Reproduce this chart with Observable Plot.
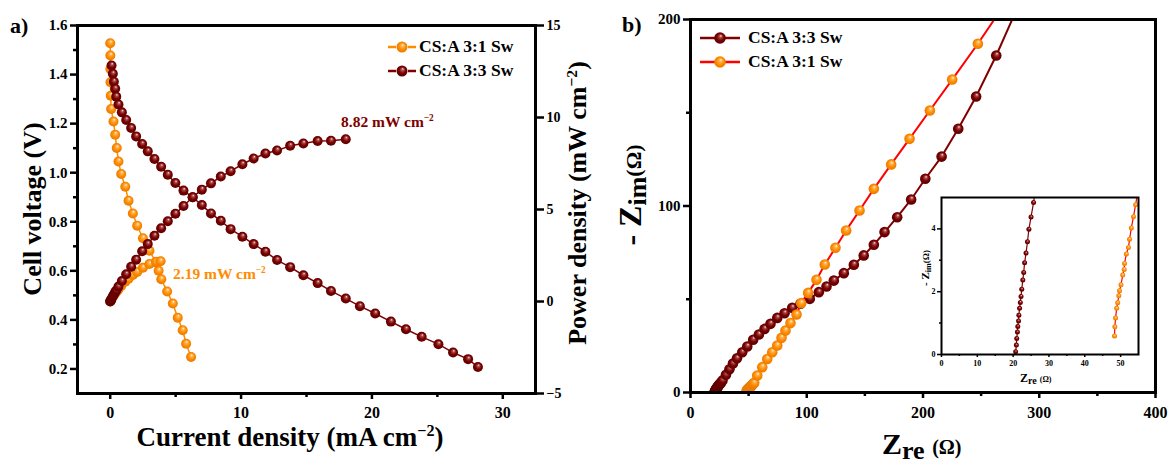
<!DOCTYPE html>
<html><head><meta charset="utf-8">
<script src="https://cdn.jsdelivr.net/npm/d3@7"></script>
<script src="https://cdn.jsdelivr.net/npm/@observablehq/plot@0.6"></script>
<style>
body{margin:0;background:#fff;}
#wrap{position:relative;width:1171px;height:465px;font-family:'Liberation Serif','Times New Roman',serif;font-weight:bold;color:#000;overflow:hidden;}
.t{position:absolute;white-space:nowrap;line-height:1;}
.rot{transform:translate(-50%,-50%) rotate(-90deg);}
sup{font-size:0.6em;vertical-align:0;position:relative;top:-0.6em;}
</style></head>
<body>
<div id="wrap"></div>
<script>
// ---------- Panel a: J-V and J-P data ----------
const J31 = [0, 0.01, 0.01, 0.02, 0.04, 0.07, 0.25, 0.38, 0.5, 0.63, 0.84, 1.15, 1.4, 1.73, 2.06, 2.5, 3.0, 3.5, 3.7, 3.9, 4.35, 4.78, 5.16, 5.54, 5.8, 6.18];
const V31 = [1.528, 1.478, 1.423, 1.369, 1.314, 1.26, 1.209, 1.155, 1.101, 1.046, 0.995, 0.943, 0.886, 0.834, 0.784, 0.733, 0.682, 0.634, 0.60, 0.566, 0.516, 0.467, 0.409, 0.358, 0.303, 0.249];
const J31p = [0, 0.02, 0.05, 0.1, 0.25, 0.38, 0.5, 0.63, 0.84, 1.15, 1.4, 1.73, 2.06, 2.5, 3.0, 3.5, 3.85];
const P31 = [0, 0.03, 0.07, 0.13, 0.30, 0.44, 0.55, 0.66, 0.84, 1.08, 1.24, 1.44, 1.61, 1.83, 2.04, 2.16, 2.19];
const J33 = [0.1, 0.2, 0.28, 0.38, 0.46, 0.63, 0.89, 1.22, 1.6, 1.98, 2.44, 2.87, 3.38, 3.89, 4.4, 4.98, 5.6, 6.3, 7.0, 7.7, 8.45, 9.2, 10.1, 10.96, 11.86, 12.75, 13.75, 14.76, 15.85, 16.87, 18.0, 19.08, 20.25, 21.45, 22.6, 23.8, 25.08, 26.2, 27.35, 28.1];
const V33 = [1.437, 1.403, 1.371, 1.342, 1.31, 1.278, 1.246, 1.215, 1.182, 1.148, 1.117, 1.087, 1.056, 1.024, 0.992, 0.958, 0.927, 0.9, 0.868, 0.834, 0.804, 0.77, 0.739, 0.709, 0.678, 0.644, 0.615, 0.582, 0.55, 0.518, 0.487, 0.456, 0.426, 0.393, 0.362, 0.331, 0.301, 0.267, 0.24, 0.208];
const J33p = [0, 0.02, 0.05, 0.1, 0.2, 0.28, 0.38, 0.46, 0.63, 0.89, 1.22, 1.6, 1.98, 2.44, 2.87, 3.38, 3.89, 4.4, 4.98, 5.6, 6.3, 7.0, 7.7, 8.45, 9.2, 10.1, 10.96, 11.86, 12.75, 13.75, 14.76, 15.85, 16.87, 18.0];
const P33 = [0, 0.03, 0.07, 0.14, 0.28, 0.38, 0.51, 0.60, 0.81, 1.11, 1.48, 1.89, 2.27, 2.73, 3.12, 3.57, 3.98, 4.36, 4.77, 5.19, 5.67, 6.08, 6.42, 6.79, 7.08, 7.46, 7.77, 8.04, 8.21, 8.46, 8.59, 8.72, 8.74, 8.82];
const xTicksA = [0, 10, 20, 30], xMinorA = [5, 15, 25];
const yTicksA = [0.2, 0.4, 0.6, 0.8, 1.0, 1.2, 1.4, 1.6], yMinorA = [0.3, 0.5, 0.7, 0.9, 1.1, 1.3, 1.5];
const pTicksA = [-5, 0, 5, 10, 15];
// ---------- Panel b: Nyquist data ----------
const Zre33 = [20.7, 20.9, 21.0, 21.2, 21.3, 21.5, 21.6, 21.8, 22.0, 22.2, 22.4, 22.7, 22.95, 23.2, 23.6, 24.0, 24.4, 25.0, 25.7, 26.3, 27.5, 30.5, 33.5, 36.5, 40.0, 44.5, 48.8, 53.9, 58.8, 63.7, 68.8, 74.6, 80.9, 87.5, 94.6, 102.6, 110.4, 117.0, 123.3, 131.9, 140.5, 149.0, 157.7, 166.9, 177.8, 189.8, 202.0, 216.0, 230.3, 245.7, 263.0, 281.0];
const Zim33 = [0.09, 0.3, 0.51, 0.72, 0.89, 1.07, 1.25, 1.47, 1.66, 1.85, 2.08, 2.37, 2.61, 2.92, 3.23, 3.59, 3.99, 4.38, 4.84, 5.3, 6.5, 9.5, 12.5, 15.5, 18.3, 21.6, 24.7, 28.3, 31.1, 34.1, 36.8, 40.0, 42.5, 45.4, 47.6, 50.2, 53.8, 56.8, 60.0, 64.0, 68.5, 73.5, 79.2, 86.0, 94.0, 103.5, 114.6, 126.5, 141.4, 158.7, 180.7, 206.0];
const Zre31 = [48.3, 48.4, 48.6, 48.9, 49.2, 49.5, 49.7, 50.1, 50.6, 51.0, 51.1, 51.6, 52.2, 52.5, 53.0, 53.6, 54.2, 54.8, 57.4, 61.7, 66.0, 70.3, 74.6, 78.3, 81.7, 86.0, 91.2, 95.2, 101.2, 108.4, 115.5, 124.7, 133.9, 145.4, 157.7, 172.6, 188.4, 205.9, 225.1, 247.2, 270.0];
const Zim31 = [0.59, 0.88, 1.16, 1.47, 1.65, 1.87, 2.03, 2.22, 2.53, 2.71, 2.9, 3.2, 3.41, 3.67, 4.03, 4.39, 4.77, 5.2, 9.1, 13.6, 18.0, 21.6, 25.2, 29.3, 33.2, 37.2, 41.8, 47.9, 53.4, 60.4, 68.6, 77.6, 86.9, 97.6, 109.2, 122.3, 136.0, 151.2, 167.8, 187.0, 208.0];
const xTicksB = [0, 100, 200, 300, 400], xMinorB = [50, 150, 250, 350];
const yTicksB = [0, 100, 200], yMinorB = [50, 150];
const xTicksIn = [0, 10, 20, 30, 40, 50], xMinorIn = [5, 15, 25, 35, 45];
const yTicksIn = [0, 2, 4], yMinorIn = [1, 3];

const names = {a31: "CS:A 3:1 Sw", a33: "CS:A 3:3 Sw"};
const C_OR = "#ff8c00", C_DR = "#800000", C_RED = "#ff0000";

const rows = (xs, ys) => xs.map((x, i) => ({x, y: ys[i]}));
const wrap = document.getElementById("wrap");
const W = 1171, H = 465;
const blank = () => "";

// gradient defs (glossy spheres)
const defs = document.createElementNS("http://www.w3.org/2000/svg", "svg");
defs.setAttribute("width", 0); defs.setAttribute("height", 0);
defs.style.position = "absolute";
defs.innerHTML = `<defs>
<radialGradient id="gO" cx="0.5" cy="0.5" r="0.5" fx="0.58" fy="0.3">
<stop offset="0" stop-color="#fff4e0"/><stop offset="0.28" stop-color="#ffb14a"/><stop offset="0.65" stop-color="#ff8a00"/><stop offset="1" stop-color="#e87a00"/></radialGradient>
<radialGradient id="gR" cx="0.5" cy="0.5" r="0.5" fx="0.58" fy="0.3">
<stop offset="0" stop-color="#f4e0e0"/><stop offset="0.25" stop-color="#a84848"/><stop offset="0.6" stop-color="#7c0000"/><stop offset="1" stop-color="#5a0000"/></radialGradient>
</defs>`;
wrap.appendChild(defs);

const baseStyle = {background: "transparent", overflow: "visible", fontFamily: "'Liberation Serif','Times New Roman',serif", fontWeight: "bold", color: "#000"};
function add(svg) { svg.style.position = "absolute"; svg.style.left = "0px"; svg.style.top = "0px"; wrap.appendChild(svg); }
function frameMargins(l, r, t, b) { return {width: W, height: H, marginLeft: l, marginRight: W - r, marginTop: t, marginBottom: H - b}; }

// ---------- Panel a, left axis (voltage) ----------
add(Plot.plot({
  ...frameMargins(77, 535, 25, 393),
  style: {...baseStyle},
  x: {domain: [-2.5, 32.5], label: null}, y: {domain: [0.1, 1.6], label: null},
  marks: [
    Plot.axisX({ticks: xTicksA, tickSize: 6, tickPadding: 7, fontSize: 16, strokeWidth: 2.5, label: null, anchor: "bottom", tickFormat: d3.format("d")}),
    Plot.axisX({ticks: xMinorA, tickSize: 4, strokeWidth: 2.5, tickFormat: blank, label: null, anchor: "bottom"}),
    Plot.axisY({ticks: yTicksA, tickSize: 7, tickPadding: 3, fontSize: 15, strokeWidth: 2.5, label: null, anchor: "left", tickFormat: d3.format(".1f")}),
    Plot.axisY({ticks: yMinorA, tickSize: 4, strokeWidth: 2.5, tickFormat: blank, label: null, anchor: "left"}),
    Plot.line(rows(J31, V31), {x: "x", y: "y", stroke: C_OR, strokeWidth: 1.5}),
    Plot.dot(rows(J31, V31), {x: "x", y: "y", r: 5, fill: "url(#gO)"}),
    Plot.line(rows(J33, V33), {x: "x", y: "y", stroke: C_DR, strokeWidth: 1.5}),
    Plot.dot(rows(J33, V33), {x: "x", y: "y", r: 5, fill: "url(#gR)"}),
    Plot.frame({stroke: "#000", strokeWidth: 3})
  ]
}));
// ---------- Panel a, right axis (power) ----------
add(Plot.plot({
  ...frameMargins(77, 535, 25, 393),
  style: {...baseStyle},
  x: {domain: [-2.5, 32.5], label: null, axis: null}, y: {domain: [-5, 15], label: null},
  marks: [
    Plot.axisY({ticks: pTicksA, tickSize: 8, tickPadding: 3, fontSize: 14, strokeWidth: 2.5, label: null, anchor: "right", tickFormat: d3.format("d")}),
    Plot.line(rows(J31p, P31), {x: "x", y: "y", stroke: C_OR, strokeWidth: 1.5}),
    Plot.dot(rows(J31p, P31), {x: "x", y: "y", r: 5, fill: "url(#gO)"}),
    Plot.line(rows(J33p, P33), {x: "x", y: "y", stroke: C_DR, strokeWidth: 1.5}),
    Plot.dot(rows(J33p, P33), {x: "x", y: "y", r: 5, fill: "url(#gR)"})
  ]
}));
// ---------- Panel b main ----------
add(Plot.plot({
  ...frameMargins(690, 1155, 19, 392),
  style: {...baseStyle},
  x: {domain: [0, 400], label: null}, y: {domain: [0, 200], label: null},
  marks: [
    Plot.axisX({ticks: xTicksB, tickSize: 6, tickPadding: 8, fontSize: 16, strokeWidth: 2.5, label: null, anchor: "bottom", tickFormat: d3.format("d")}),
    Plot.axisX({ticks: xMinorB, tickSize: 4, strokeWidth: 2.5, tickFormat: blank, label: null, anchor: "bottom"}),
    Plot.axisY({ticks: yTicksB, tickSize: 7, tickPadding: 3, fontSize: 15, strokeWidth: 2.5, label: null, anchor: "left", tickFormat: d3.format("d")}),
    Plot.axisY({ticks: yMinorB, tickSize: 4, strokeWidth: 2.5, tickFormat: blank, label: null, anchor: "left"}),
    Plot.line(rows(Zre33, Zim33), {x: "x", y: "y", stroke: C_DR, strokeWidth: 2, clip: true}),
    Plot.dot(rows(Zre33, Zim33), {x: "x", y: "y", r: 5.3, fill: "url(#gR)", clip: true}),
    Plot.line(rows(Zre31, Zim31), {x: "x", y: "y", stroke: C_RED, strokeWidth: 2, clip: true}),
    Plot.dot(rows(Zre31, Zim31), {x: "x", y: "y", r: 5.3, fill: "url(#gO)", clip: true}),
    Plot.frame({stroke: "#000", strokeWidth: 3})
  ]
}));
// ---------- Panel b inset ----------
add(Plot.plot({
  ...frameMargins(941, 1138, 197, 354),
  style: {...baseStyle},
  x: {domain: [0, 55], label: null}, y: {domain: [0, 5], label: null},
  marks: [
    Plot.frame({fill: "#fff", stroke: null}),
    Plot.axisX({ticks: xTicksIn, tickSize: 3, tickPadding: 3, fontSize: 8, strokeWidth: 1.5, label: null, anchor: "bottom", tickFormat: d3.format("d")}),
    Plot.axisX({ticks: xMinorIn, tickSize: 2, strokeWidth: 1.5, tickFormat: blank, label: null, anchor: "bottom"}),
    Plot.axisY({ticks: yTicksIn, tickSize: 4, tickPadding: 2, fontSize: 8, strokeWidth: 1.5, label: null, anchor: "left", tickFormat: d3.format("d")}),
    Plot.axisY({ticks: yMinorIn, tickSize: 2, strokeWidth: 1.5, tickFormat: blank, label: null, anchor: "left"}),
    Plot.line(rows(Zre33, Zim33), {x: "x", y: "y", stroke: C_DR, strokeWidth: 1.2, clip: true}),
    Plot.dot(rows(Zre33, Zim33), {x: "x", y: "y", r: 2.5, fill: "url(#gR)", clip: true}),
    Plot.line(rows(Zre31, Zim31), {x: "x", y: "y", stroke: C_RED, strokeWidth: 1.2, clip: true}),
    Plot.dot(rows(Zre31, Zim31), {x: "x", y: "y", r: 2.5, fill: "url(#gO)", clip: true}),
    Plot.frame({stroke: "#000", strokeWidth: 2})
  ]
}));

// ---------- texts ----------
function txt(html, css) { const d = document.createElement("div"); d.className = "t"; d.innerHTML = html; Object.assign(d.style, css); wrap.appendChild(d); return d; }
txt("a)", {left: "10px", top: "15px", fontSize: "22px"});
txt("b)", {left: "622px", top: "14px", fontSize: "22px"});
txt("Cell voltage (V)", {left: "33px", top: "209px", fontSize: "26px"}).classList.add("rot");
txt("Current density (mA cm<sup>−2</sup>)", {left: "290px", top: "437px", fontSize: "27px", transform: "translate(-50%,-50%)"});
txt("Power density (mW cm<sup>−2</sup>)", {left: "578px", top: "203px", fontSize: "26px"}).classList.add("rot");
txt("8.82 mW cm<sup>−2</sup>", {left: "341px", top: "114px", fontSize: "15.5px", color: C_DR});
txt("2.19 mW cm<sup>−2</sup>", {left: "173px", top: "266px", fontSize: "15.5px", color: C_OR});
txt(`- Z<span style="font-size:26px;position:relative;top:5px">im</span><span style="font-size:22px">(Ω)</span>`, {left: "630px", top: "195px", fontSize: "32px"}).classList.add("rot");
txt(`Z<span style="font-size:26px;position:relative;top:5px">re</span> <span style="font-size:20px">(Ω)</span>`, {left: "882px", top: "429px", fontSize: "30px"});
txt(`- Z<span style="font-size:8px;position:relative;top:2px">im</span><span style="font-size:9px">(Ω)</span>`, {left: "925px", top: "268px", fontSize: "11px"}).classList.add("rot");
txt(`Z<span style="font-size:10px;position:relative;top:2px">re</span> <span style="font-size:8px">(Ω)</span>`, {left: "1020px", top: "372px", fontSize: "12px"});

// ---------- legends ----------
function legendItem(x, y, lineCol, grad, dashed) {
  const s = document.createElementNS("http://www.w3.org/2000/svg", "svg");
  s.setAttribute("width", 60); s.setAttribute("height", 20);
  s.style.position = "absolute"; s.style.left = (x - 30) + "px"; s.style.top = (y - 10) + "px";
  s.innerHTML = dashed
    ? `<line x1="16" x2="24" y1="10" y2="10" stroke="${lineCol}" stroke-width="2.5"/><line x1="36" x2="44" y1="10" y2="10" stroke="${lineCol}" stroke-width="2.5"/><circle cx="30" cy="10" r="5.5" fill="url(#${grad})"/>`
    : `<line x1="10" x2="50" y1="10" y2="10" stroke="${lineCol}" stroke-width="2.5"/><circle cx="30" cy="10" r="5.8" fill="url(#${grad})"/>`;
  wrap.appendChild(s);
}
legendItem(402, 47, C_OR, "gO", true); txt(names.a31, {left: "419px", top: (47 - 9) + "px", fontSize: "17.5px"});
legendItem(402, 71, C_DR, "gR", true); txt(names.a33, {left: "419px", top: (71 - 9) + "px", fontSize: "17.5px"});
legendItem(720, 38, C_DR, "gR", false); txt(names.a33, {left: "748px", top: (38 - 9) + "px", fontSize: "17.5px"});
legendItem(720, 62, C_RED, "gO", false); txt(names.a31, {left: "748px", top: (62 - 9) + "px", fontSize: "17.5px"});
</script>
</body></html>
